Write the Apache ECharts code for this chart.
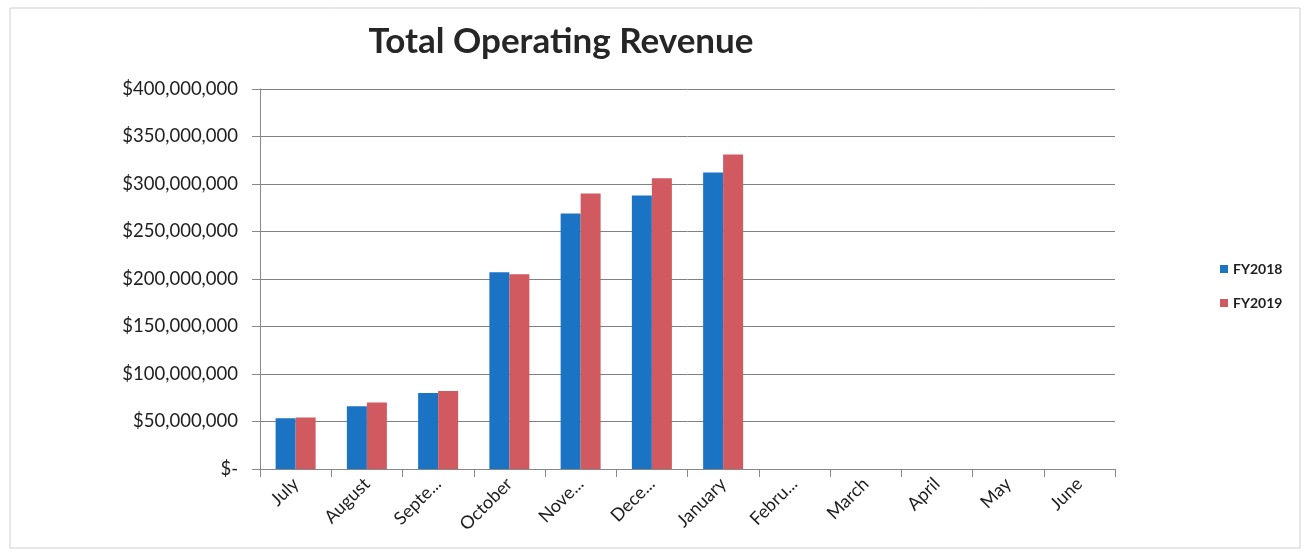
<!DOCTYPE html>
<html>
<head>
<meta charset="utf-8">
<script src="https://cdn.jsdelivr.net/npm/echarts@6/dist/echarts.min.js"></script>
<style>
html,body{margin:0;padding:0;background:#fff;}
#chart{width:1312px;height:557px;}
</style>
</head>
<body>
<div id="chart"></div>
<script>
var categories = ['July','August','Septe...','October','Nove...','Dece...','January','Febru...','March','April','May','June'];
var fy2018 = [53.5e6, 66e6, 80e6, 207e6, 269e6, 288e6, 312e6, null, null, null, null, null];
var fy2019 = [54.2e6, 70e6, 82e6, 205e6, 290e6, 306e6, 331e6, null, null, null, null, null];
var seriesNames = ['FY2018','FY2019'];

function fmt(v){
  if (v === 0) return '$-';
  return '$' + v.toLocaleString('en-US');
}

var chart = echarts.init(document.getElementById('chart'));
chart.setOption({
  animation:false,
  backgroundColor:'#fff',
  textStyle:{fontFamily:'Lato'},
  title:{
    text:'Total Operating Revenue',
    left:556, top:19, textAlign:'center',
    textStyle:{fontFamily:'Lato',fontSize:35,fontWeight:'bold',color:'#262626'}
  },
  legend:{
    orient:'vertical', left:1215, top:257, itemGap:20,
    itemWidth:8, itemHeight:8, icon:'rect',
    textStyle:{fontFamily:'Lato',fontSize:14,fontWeight:'bold',color:'#1e1e1e'},
    data:seriesNames
  },
  grid:{left:260, right:197, top:89, bottom:88},
  xAxis:{
    type:'category', data:categories,
    axisLine:{lineStyle:{color:'#888'}},
    axisTick:{show:true, length:8, alignWithLabel:false, lineStyle:{color:'#888'}},
    axisLabel:{rotate:45, fontSize:18, color:'#1e1e1e', margin:12, interval:0}
  },
  yAxis:{
    type:'value', min:0, max:400000000, interval:50000000,
    axisLine:{show:true, lineStyle:{color:'#888'}},
    axisTick:{show:true, inside:false, length:8, lineStyle:{color:'#888'}},
    axisLabel:{fontSize:18.5, color:'#1e1e1e', margin:22, formatter:fmt},
    splitLine:{lineStyle:{color:'#808080', width:1}}
  },
  graphic:[{
    type:'rect', shape:{x:10, y:8, width:1290, height:540},
    style:{fill:'none', stroke:'#cfcfcf', lineWidth:1}, silent:true
  }],
  series:[
    {name:seriesNames[0], type:'bar', data:fy2018, barWidth:20, barGap:'0%', itemStyle:{color:'#1b74c3'}},
    {name:seriesNames[1], type:'bar', data:fy2019, barWidth:20, barGap:'0%', itemStyle:{color:'#d15a60'}}
  ]
});
</script>
</body>
</html>
